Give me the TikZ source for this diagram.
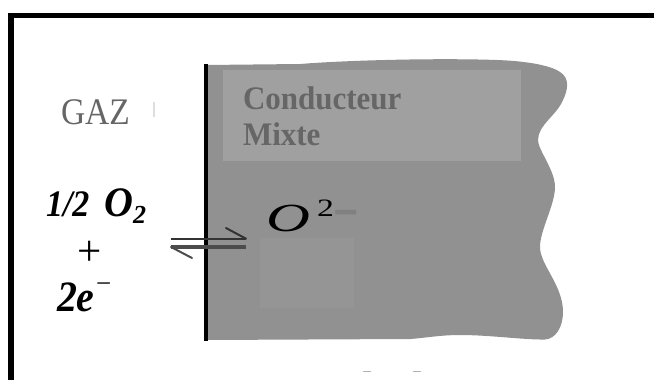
\documentclass[tikz,border=0pt]{standalone}
\usepackage{fontspec}
\setmainfont{Liberation Serif}
\definecolor{blob}{HTML}{919191}
\definecolor{panel}{HTML}{A0A0A0}
\definecolor{faint}{HTML}{959595}
\definecolor{soft}{HTML}{666666}
\newcommand{\fs}[1]{\fontsize{#1}{#1}\selectfont}
\tikzset{
  lbl/.style={inner sep=0pt,outer sep=0pt,anchor=base west},
  reaction/.style={lbl,text=black},
  panelText/.style={lbl,font=\fs{31}\bfseries,text=soft},
}
\begin{document}
\begin{tikzpicture}[x=1pt,y=-1pt]
\useasboundingbox (0,0) rectangle (654,380);
% frame
\draw[line width=5.5pt,miter limit=10] (11,380) -- (11,15.5) -- (654,15.5);
% conductor body
\fill[blob] (206,65) -- (300,64) .. controls (350,60) and (440,58) .. (497,60)
  .. controls (525,61) and (550,65) .. (560,72)
  .. controls (570,78) and (568,90) .. (563,100)
  .. controls (557,115) and (538,125) .. (538,140)
  .. controls (538,150) and (555,170) .. (555,187)
  .. controls (555,205) and (540,230) .. (540,247)
  .. controls (540,265) and (563,285) .. (563,312)
  .. controls (563,328) and (555,339) .. (545,339.5)
  .. controls (525,340) and (490,335) .. (460,335)
  .. controls (440,335) and (425,338) .. (410,339)
  -- (206,340) -- cycle;
\fill[panel] (223,70) rectangle (521,161);
\fill[faint] (260,238) rectangle (354,308);
\draw[line width=4pt] (206,64) -- (206,341);
% labels
\node[lbl,font=\fs{33.5},text=soft] (gaz) at (61,124.5) {\scalebox{1}[1.12]{GAZ}};
\node[panelText] (cond) at (243,109) {\scalebox{1}[1.06]{Conducteur}};
\node[panelText] (mixte) at (243,145) {\scalebox{1}[1.06]{Mixte}};
% reactants
\node[reaction,font=\fs{34}\bfseries\itshape] (half) at (46,216) {\scalebox{1}[1.1]{1/2}};
\node[reaction,font=\fs{40}\bfseries\itshape] (otwo) at (104,216) {\scalebox{1}[1.05]{O}};
\node[reaction,font=\fs{26}\bfseries\itshape] (otwosub) at (133,223) {2};
\node[inner sep=0pt,font=\fs{43}] (plus) at (89.5,253) {+};
\node[reaction,font=\fs{38}\bfseries\itshape] (twoe) at (57,311) {\scalebox{1.05}[1.14]{2e}};
\node[lbl,font=\fs{27}] (eminus) at (96,292) {−};
% equilibrium arrow
\coordinate (aL) at (171,238.7);
\coordinate (aR) at (246,238.7);
\coordinate (aT) at (226,228);
\coordinate (bL) at (171,247);
\coordinate (bR) at (246,247);
\coordinate (bT) at (192,258);
\draw[line width=1.6pt,draw=black!80] (aL) -- (aR);
\draw[line width=2pt,draw=black!80,line cap=round] (aT) -- (aR);
\draw[line width=3.2pt,draw=black!70] (bL) -- (bR);
\draw[line width=2pt,draw=black!70,line cap=round] (bL) -- (bT);
% oxide ion
\node[inner sep=0pt,font=\fs{38}\itshape] (oxy) at (288,218.5) {\scalebox{1.6}[1.05]{O}};
\node[lbl,font=\fs{25}] (oxytwo) at (317,216) {\scalebox{1.35}[1]{2}};
\node[lbl,font=\fs{30},text=black!50] (oxyminus) at (333,242) {\scalebox{1.5}[3]{−}};
% faint scan marks
\fill[black!13] (152.5,102) rectangle (155,117);
\fill[black!30] (363,370.5) rectangle (371,372);
\fill[black!30] (413,370.5) rectangle (421,372);
\end{tikzpicture}
\end{document}
